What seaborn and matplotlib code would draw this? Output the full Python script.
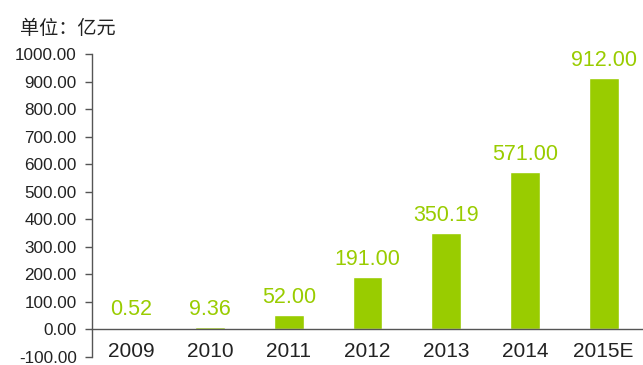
import matplotlib.pyplot as plt
import seaborn as sns
import numpy as np

years = ["2009", "2010", "2011", "2012", "2013", "2014", "2015E"]
values = [0.52, 9.36, 52.00, 191.00, 350.19, 571.00, 912.00]
value_labels = ["0.52", "9.36", "52.00", "191.00", "350.19", "571.00", "912.00"]
y_ticks = list(range(-100, 1001, 100))

green = "#99cc00"
axis_grey = "#555555"

sns.set_style("white")
plt.rcParams["font.family"] = ["Liberation Sans", "Noto Sans CJK SC", "DejaVu Sans"]

fig = plt.figure(figsize=(6.43, 3.65), dpi=100)
ax = fig.add_axes([0.143, 0.022, 0.857, 0.830])

sns.barplot(x=years, y=values, color=green, width=0.38, saturation=1, ax=ax)

ax.set_xlim(-0.5, len(years) - 0.5)
ax.set_ylim(-100, 1000)
ax.set_yticks(y_ticks)
ax.set_yticklabels([f"{t:.2f}" for t in y_ticks], fontsize=12.3, color="#222222")

# x axis sits on the zero line, tick marks between the categories
ax.spines["bottom"].set_position(("data", 0))
ax.spines["top"].set_visible(False)
ax.spines["right"].set_visible(False)
for side in ("left", "bottom"):
    ax.spines[side].set_color(axis_grey)
    ax.spines[side].set_linewidth(1.0)

ax.set_xticks(np.arange(len(years)))
ax.set_xticklabels(years, fontsize=15, color="#222222")
ax.set_xticks(np.arange(len(years) + 1) - 0.5, minor=True)
ax.tick_params(axis="x", which="major", length=0, pad=9)
ax.tick_params(axis="x", which="minor", length=5, width=1, color=axis_grey, direction="out")
ax.tick_params(axis="y", length=5, width=1, color=axis_grey, direction="out", left=True, pad=6)
ax.set_xlabel("")
ax.set_ylabel("")

for i, (v, lab) in enumerate(zip(values, value_labels)):
    ax.annotate(lab, (i, max(v, 8)), xytext=(0, 5), textcoords="offset points",
                ha="center", va="bottom", fontsize=15.5, color=green)

fig.text(0.031, 0.923, "单位：亿元", fontsize=13.8, color="#222222",
         family=["Noto Sans CJK SC", "DejaVu Sans"], va="center", ha="left")

fig.savefig("out.png", dpi=100)
